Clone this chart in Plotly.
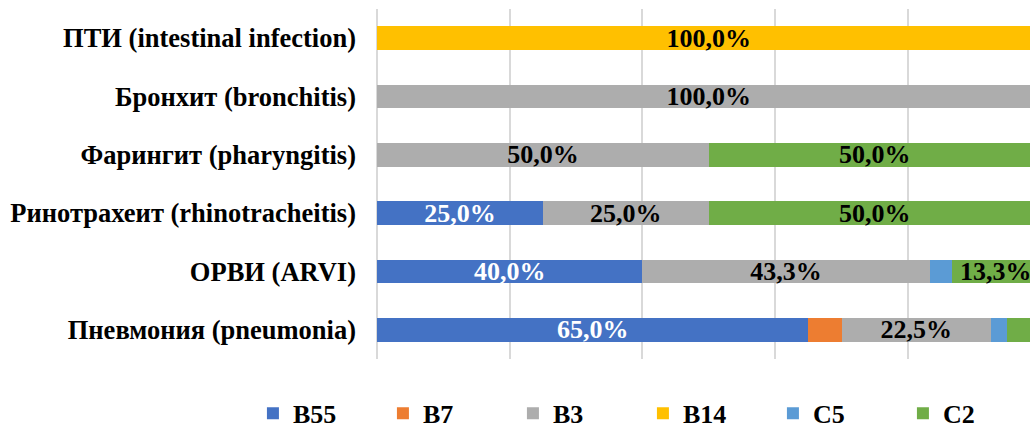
import plotly.graph_objects as go

categories = ["ПТИ (intestinal infection)", "Бронхит (bronchitis)", "Фарингит (pharyngitis)",
              "Ринотрахеит (rhinotracheitis)", "ОРВИ (ARVI)", "Пневмония (pneumonia)"]
series_names = ["B55", "B7", "B3", "B14", "C5", "C2"]
B55 = [0, 0, 0, 25.0, 40.0, 65.0]
B7 = [0, 0, 0, 0, 0, 5.0]
B3 = [0, 100.0, 50.0, 25.0, 43.3, 22.5]
B14 = [100.0, 0, 0, 0, 0, 0]
C5 = [0, 0, 0, 0, 3.3, 2.5]
C2 = [0, 0, 50.0, 50.0, 13.3, 5.0]
series_values = [B55, B7, B3, B14, C5, C2]

colors = ["#4472C4", "#ED7D31", "#ADADAD", "#FFC000", "#5B9BD5", "#70AD47"]
text_colors = ["white", "black", "black", "black", "black", "black"]
FONT = "Liberation Serif, Times New Roman, serif"


def fmt(v):
    return (f"{v:.1f}".replace(".", ",") + "%") if v >= 10 else ""


fig = go.Figure()
for name, vals, col, tcol in zip(series_names, series_values, colors, text_colors):
    fig.add_trace(go.Bar(
        name=name, y=categories, x=vals, orientation="h",
        marker=dict(color=col, line=dict(width=0)),
        text=[fmt(v) for v in vals], textposition="inside",
        insidetextanchor="middle", textangle=0, constraintext="none",
        insidetextfont=dict(family=FONT, size=26, color=tcol, weight="bold"),
        hoverinfo="skip",
    ))

fig.update_layout(
    width=1030, height=429,
    barmode="stack", bargap=0.59,
    plot_bgcolor="white", paper_bgcolor="white",
    margin=dict(l=377, r=0, t=9, b=70, autoexpand=False),
    font=dict(family=FONT, size=26, color="black", weight="bold"),
    xaxis=dict(range=[0, 98.4], dtick=20, showgrid=True, gridcolor="#D9D9D9", gridwidth=2,
               zeroline=True, zerolinecolor="#D9D9D9", zerolinewidth=2,
               showticklabels=False, ticks="", showline=False, fixedrange=True),
    yaxis=dict(autorange="reversed", showgrid=False, ticks="", showline=False,
               ticklabelstandoff=20, fixedrange=True,
               tickfont=dict(family=FONT, size=26.5, color="black", weight="bold")),
    legend=dict(orientation="h", xref="paper", yref="paper",
                x=-0.19, y=-0.155, xanchor="left", yanchor="middle",
                traceorder="normal",
                entrywidth=85, entrywidthmode="pixels",
                font=dict(family=FONT, size=26, color="black", weight="bold"),
                bgcolor="rgba(0,0,0,0)"),
    showlegend=True,
)

fig.write_html("out.html", config={"displayModeBar": False},
               post_script="document.body.style.margin='0';document.body.style.overflow='hidden';")
